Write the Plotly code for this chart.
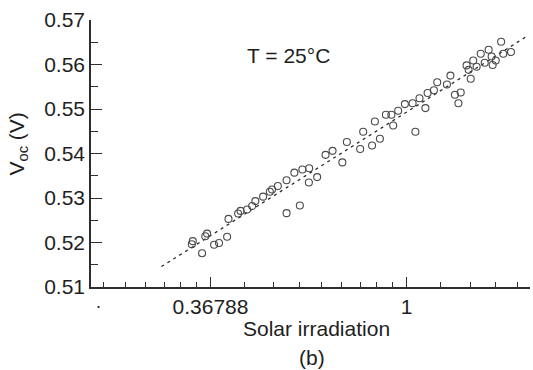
import plotly.graph_objects as go
import numpy as np

# Measured data (solar irradiation, normalized) and open-circuit voltage (V)
irradiation = [0.3361, 0.3344, 0.3524, 0.3615, 0.3582, 0.3747, 0.3842, 0.4004, 0.4032, 0.4235,
               0.4287, 0.4434, 0.4549, 0.4624, 0.4811, 0.4979, 0.5035, 0.5186, 0.5422, 0.5422,
               0.5642, 0.5802, 0.5877, 0.6084, 0.6075, 0.6337, 0.6615, 0.6855, 0.7206, 0.7374,
               0.7892, 0.8014, 0.8386, 0.8507, 0.8727, 0.8998, 0.9254, 0.9339, 0.9580, 0.9913,
               1.0311, 1.0459, 1.0680, 1.1006, 1.1131, 1.1495, 1.1690, 1.2283, 1.2504, 1.2794,
               1.3178, 1.3025, 1.3581, 1.3721, 1.3868, 1.4047, 1.4292, 1.4595, 1.4896, 1.5195,
               1.5429, 1.5508, 1.5756, 1.6195, 1.6370, 1.7026]
voc = [0.5203, 0.5196, 0.5176, 0.5220, 0.5214, 0.5195, 0.5199, 0.5213, 0.5253, 0.5265,
       0.5271, 0.5274, 0.5282, 0.5293, 0.5303, 0.5314, 0.5319, 0.5327, 0.5340, 0.5266,
       0.5357, 0.5283, 0.5364, 0.5367, 0.5335, 0.5347, 0.5397, 0.5406, 0.5380, 0.5426,
       0.5410, 0.5449, 0.5418, 0.5472, 0.5433, 0.5487, 0.5487, 0.5463, 0.5496, 0.5511,
       0.5513, 0.5449, 0.5524, 0.5502, 0.5536, 0.5542, 0.5560, 0.5555, 0.5575, 0.5532,
       0.5537, 0.5513, 0.5598, 0.5588, 0.5568, 0.5609, 0.5595, 0.5624, 0.5604, 0.5633,
       0.5618, 0.5599, 0.5609, 0.5651, 0.5624, 0.5628]

# Fitted logarithmic trend (end points)
fit_irradiation = [0.2865, 1.8446]
fit_voc = [0.5146, 0.5663]

# Axis ticks
x_tickvals = [0.36788, 1.0]
x_ticktext = ["0.36788", "1"]
y_tickvals = [0.51, 0.52, 0.53, 0.54, 0.55, 0.56, 0.57]

e = np.e
x_minor = (list(np.linspace(np.exp(-2), np.exp(-1), 10)[1:-1])
           + list(np.linspace(np.exp(-1), 1.0, 10)[1:-1])
           + list(np.linspace(1.0, e, 10)[1:-1]))

FONT = "Liberation Sans, Arial, Helvetica, sans-serif"
TXT = "#1e1e1e"
AX = "#2e2e2e"

fig = go.Figure()
fig.add_trace(go.Scatter(
    x=fit_irradiation, y=fit_voc, mode="lines",
    line=dict(color="#2a2a2a", width=1.3, dash="3px,4px"),
    showlegend=False, hoverinfo="skip"))
fig.add_trace(go.Scatter(
    x=irradiation, y=voc, mode="markers",
    marker=dict(symbol="circle-open", size=7, color="#4a4a4a", line=dict(width=1.1)),
    showlegend=False))

W, H = 533, 370
L, R, T, B = 91, 3, 20, 83
pw, ph = W - L - R, H - T - B


def px(xp):
    return (xp - L) / pw


def py(yp):
    return (H - B - yp) / ph


def note(text, x, y, size=21, angle=0):
    return dict(text=text, x=px(x), y=py(y), xref="paper", yref="paper",
                xanchor="center", yanchor="middle", showarrow=False,
                textangle=angle, font=dict(size=size, color=TXT))


fig.update_layout(
    width=W, height=H,
    margin=dict(l=L, r=R, t=T, b=B),
    paper_bgcolor="white", plot_bgcolor="white",
    font=dict(family=FONT, size=21, color=TXT),
    xaxis=dict(
        type="log", range=[np.log10(0.2), 0.2733],
        tickmode="array", tickvals=x_tickvals, ticktext=x_ticktext,
        ticks="inside", ticklen=10, tickwidth=1.4, tickcolor=AX,
        showline=True, linecolor=AX, linewidth=1.5,
        showgrid=False,
        tickfont=dict(size=21, color=TXT),
        minor=dict(tickmode="array", tickvals=x_minor, ticks="inside",
                   ticklen=5, tickwidth=1.2, tickcolor=AX, showgrid=False),
    ),
    yaxis=dict(
        range=[0.51, 0.57],
        tickmode="array", tickvals=y_tickvals,
        tickformat=".2f",
        ticks="inside", ticklen=11, tickwidth=1.4, tickcolor=AX,
        showline=True, linecolor=AX, linewidth=1.5,
        showgrid=False,
        tickfont=dict(size=21, color=TXT),
        minor=dict(ticks="inside", dtick=0.005, ticklen=7, tickwidth=1.2,
                   tickcolor=AX, showgrid=False),
    ),
    annotations=[
        note("T = 25°C", 288.5, 55.5),
        note("V<sub>oc</sub> (V)", 17.5, 144, angle=-90),
        note("Solar irradiation", 316, 328),
        note("(b)", 312, 357),
        note(".", 98, 302, size=18),
    ],
)

fig.write_html("out.html")
